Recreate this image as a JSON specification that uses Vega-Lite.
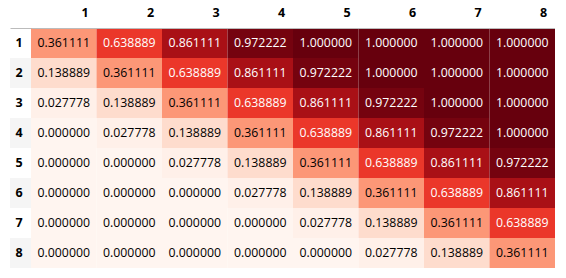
{
  "$schema": "https://vega.github.io/schema/vega-lite/v6.json",
  "padding": {"left": 10, "top": 0, "right": 0, "bottom": 0},
  "background": "white",
  "spacing": 0,
  "config": {
    "view": {"stroke": null},
    "font": "Open Sans",
    "axis": {"ticks": false, "grid": false, "title": null}
  },
  "data": {
    "values": [
      {"row": 1, "col": 1, "v": 0.361111}, {"row": 1, "col": 2, "v": 0.638889}, {"row": 1, "col": 3, "v": 0.861111}, {"row": 1, "col": 4, "v": 0.972222}, {"row": 1, "col": 5, "v": 1.0}, {"row": 1, "col": 6, "v": 1.0}, {"row": 1, "col": 7, "v": 1.0}, {"row": 1, "col": 8, "v": 1.0},
      {"row": 2, "col": 1, "v": 0.138889}, {"row": 2, "col": 2, "v": 0.361111}, {"row": 2, "col": 3, "v": 0.638889}, {"row": 2, "col": 4, "v": 0.861111}, {"row": 2, "col": 5, "v": 0.972222}, {"row": 2, "col": 6, "v": 1.0}, {"row": 2, "col": 7, "v": 1.0}, {"row": 2, "col": 8, "v": 1.0},
      {"row": 3, "col": 1, "v": 0.027778}, {"row": 3, "col": 2, "v": 0.138889}, {"row": 3, "col": 3, "v": 0.361111}, {"row": 3, "col": 4, "v": 0.638889}, {"row": 3, "col": 5, "v": 0.861111}, {"row": 3, "col": 6, "v": 0.972222}, {"row": 3, "col": 7, "v": 1.0}, {"row": 3, "col": 8, "v": 1.0},
      {"row": 4, "col": 1, "v": 0.0}, {"row": 4, "col": 2, "v": 0.027778}, {"row": 4, "col": 3, "v": 0.138889}, {"row": 4, "col": 4, "v": 0.361111}, {"row": 4, "col": 5, "v": 0.638889}, {"row": 4, "col": 6, "v": 0.861111}, {"row": 4, "col": 7, "v": 0.972222}, {"row": 4, "col": 8, "v": 1.0},
      {"row": 5, "col": 1, "v": 0.0}, {"row": 5, "col": 2, "v": 0.0}, {"row": 5, "col": 3, "v": 0.027778}, {"row": 5, "col": 4, "v": 0.138889}, {"row": 5, "col": 5, "v": 0.361111}, {"row": 5, "col": 6, "v": 0.638889}, {"row": 5, "col": 7, "v": 0.861111}, {"row": 5, "col": 8, "v": 0.972222},
      {"row": 6, "col": 1, "v": 0.0}, {"row": 6, "col": 2, "v": 0.0}, {"row": 6, "col": 3, "v": 0.0}, {"row": 6, "col": 4, "v": 0.027778}, {"row": 6, "col": 5, "v": 0.138889}, {"row": 6, "col": 6, "v": 0.361111}, {"row": 6, "col": 7, "v": 0.638889}, {"row": 6, "col": 8, "v": 0.861111},
      {"row": 7, "col": 1, "v": 0.0}, {"row": 7, "col": 2, "v": 0.0}, {"row": 7, "col": 3, "v": 0.0}, {"row": 7, "col": 4, "v": 0.0}, {"row": 7, "col": 5, "v": 0.027778}, {"row": 7, "col": 6, "v": 0.138889}, {"row": 7, "col": 7, "v": 0.361111}, {"row": 7, "col": 8, "v": 0.638889},
      {"row": 8, "col": 1, "v": 0.0}, {"row": 8, "col": 2, "v": 0.0}, {"row": 8, "col": 3, "v": 0.0}, {"row": 8, "col": 4, "v": 0.0}, {"row": 8, "col": 5, "v": 0.0}, {"row": 8, "col": 6, "v": 0.027778}, {"row": 8, "col": 7, "v": 0.138889}, {"row": 8, "col": 8, "v": 0.361111}
    ]
  },
  "hconcat": [
    {
      "width": 21,
      "height": 240,
      "transform": [{"filter": "datum.col == 1"}],
      "layer": [
        {
          "transform": [{"filter": "datum.row % 2 == 0"}],
          "mark": {"type": "rect", "color": "#f5f5f5"},
          "encoding": {
            "x": {"datum": "h", "type": "nominal", "scale": {"domain": ["h"], "paddingInner": 0, "paddingOuter": 0},
                  "axis": {"orient": "top", "labels": false, "domain": true, "domainColor": "#bbbbbb", "domainWidth": 1, "minExtent": 28, "maxExtent": 28}},
            "y": {"field": "row", "type": "ordinal", "scale": {"paddingInner": 0, "paddingOuter": 0, "domain": [1,2,3,4,5,6,7,8]}, "axis": null}
          }
        },
        {
          "mark": {"type": "text", "fontWeight": "bold", "fontSize": 12.5, "align": "right", "color": "#000000"},
          "encoding": {
            "x": {"datum": "h", "type": "nominal", "bandPosition": 0.6},
            "y": {"field": "row", "type": "ordinal"},
            "text": {"field": "row", "type": "ordinal"}
          }
        }
      ]
    },
    {
      "width": 524,
      "height": 240,
      "layer": [
        {
          "mark": {"type": "rect", "opacity": 1, "fillOpacity": 1, "strokeWidth": 0},
          "encoding": {
            "x": {"field": "col", "type": "ordinal", "scale": {"paddingInner": 0, "paddingOuter": 0},
                  "axis": {"orient": "top", "labelAngle": 0, "labelFontWeight": "bold", "labelFontSize": 12.5, "labelColor": "#000000", "labelAlign": "right", "labelOffset": 25, "labelPadding": 9, "domainColor": "#bbbbbb", "domainWidth": 1, "minExtent": 28, "maxExtent": 28}},
            "y": {"field": "row", "type": "ordinal", "scale": {"paddingInner": 0, "paddingOuter": 0}, "axis": null},
            "fill": {"field": "v", "type": "quantitative", "scale": {"type": "linear", "domain": [0, 0.125, 0.25, 0.375, 0.5, 0.625, 0.75, 0.875, 1], "range": ["#fff5f0", "#fee0d2", "#fcbba1", "#fc9272", "#fb6a4a", "#ef3b2c", "#cb181d", "#a50f15", "#67000d"], "interpolate": "rgb"}, "legend": null}
          }
        },
        {
          "mark": {"type": "text", "fontSize": 12.3},
          "encoding": {
            "x": {"field": "col", "type": "ordinal"},
            "y": {"field": "row", "type": "ordinal"},
            "text": {"field": "v", "type": "quantitative", "format": ".6f"},
            "color": {"condition": {"test": "datum.v > 0.5", "value": "#ffffff"}, "value": "#000000"}
          }
        }
      ]
    }
  ]
}
